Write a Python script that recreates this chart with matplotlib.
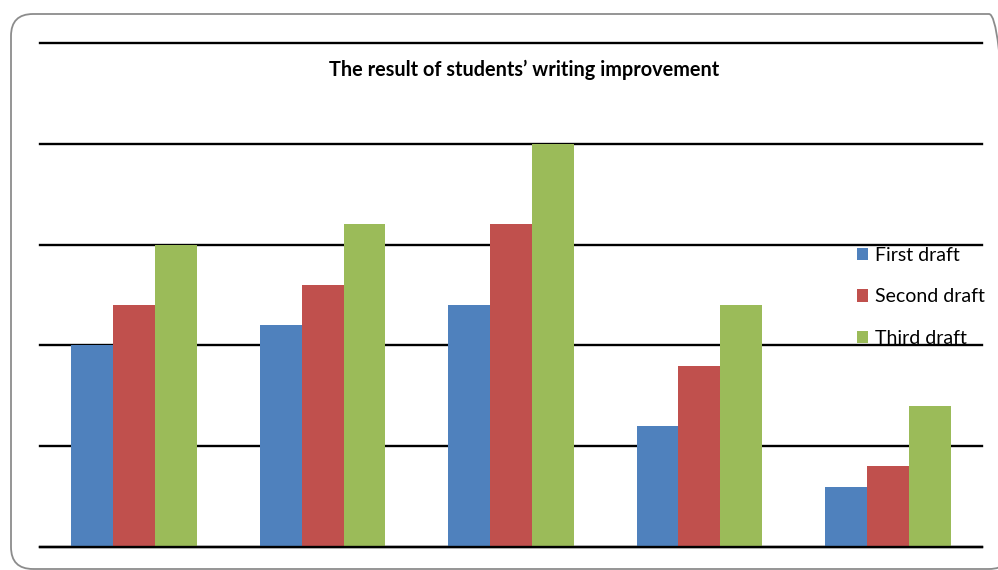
import matplotlib
matplotlib.use("Agg")
import matplotlib.pyplot as plt
import numpy as np
from matplotlib.patches import FancyBboxPatch

categories = ["1", "2", "3", "4", "5"]
series_names = ["First draft", "Second draft", "Third draft"]
first_draft = [20, 22, 24, 12, 6]
second_draft = [24, 26, 32, 18, 8]
third_draft = [30, 32, 40, 24, 14]
colors = ["#4F81BD", "#C0504D", "#9BBB59"]
gridlines = [0, 10, 20, 30, 40, 50]
title = "The result of students\u2019 writing improvement"

plt.rcParams["font.family"] = ["Lato", "DejaVu Sans"]

fig = plt.figure(figsize=(9.98, 5.70), dpi=100)
ax = fig.add_axes([40 / 998, 1 - 547 / 570, 942 / 998, 504 / 570])

x = np.arange(len(categories))
width = 1 / 4.5
for g in gridlines:
    ax.axhline(g, color="black", linewidth=1.7, zorder=1, clip_on=False)
for i, (vals, name) in enumerate(zip([first_draft, second_draft, third_draft], series_names)):
    ax.bar(x + (i - 1) * width, vals, width, color=colors[i], label=name, zorder=2)
ax.axhline(0, color="black", linewidth=1.7, zorder=3, clip_on=False)

ax.set_xlim(-0.5, len(categories) - 0.5)
ax.set_ylim(0, 50)
ax.tick_params(left=False, bottom=False, labelleft=False, labelbottom=False)
for s in ax.spines.values():
    s.set_visible(False)

fig.text(524 / 998, 1 - 70 / 570, title, ha="center", va="center",
         fontsize=14.3, fontweight="bold")

leg = ax.legend(loc="upper left", bbox_to_anchor=(847 / 998, 1 - 237 / 570),
                bbox_transform=fig.transFigure, frameon=False, fontsize=14,
                handlelength=0.6, handleheight=0.6, handletextpad=0.35,
                labelspacing=1.26, borderpad=0)

# rounded chart border
border = FancyBboxPatch((0.11, 0.01), 10.0, 5.55, boxstyle="round,pad=0,rounding_size=0.22",
                        transform=fig.dpi_scale_trans, facecolor="none",
                        edgecolor="#8c8c8c", linewidth=1.3)
fig.patches.append(border)

fig.savefig("out.png", dpi=100)
